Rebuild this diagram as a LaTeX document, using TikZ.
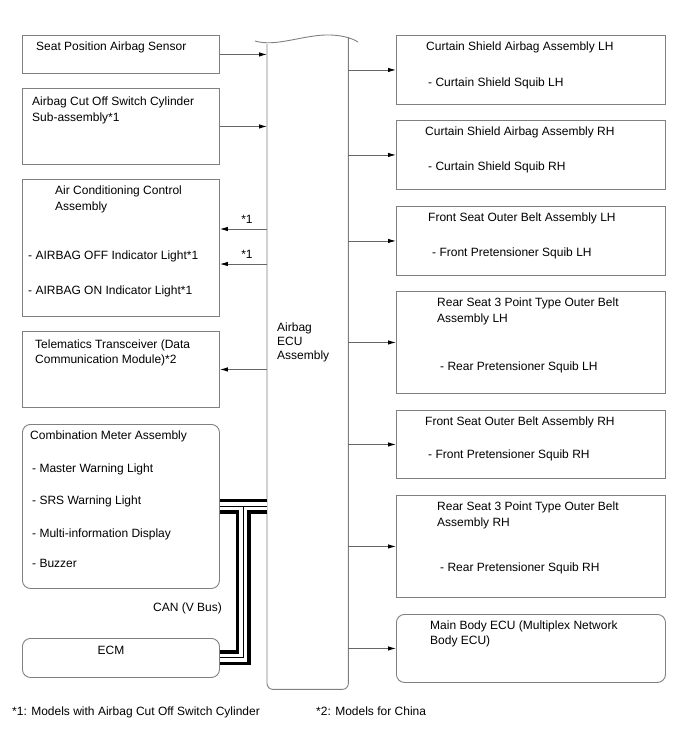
\documentclass[tikz,border=0pt]{standalone}
\usepackage{fontspec}
\setmainfont{Liberation Sans}
\usetikzlibrary{arrows.meta,calc}
\definecolor{boxgray}{HTML}{808080}
\definecolor{linegray}{HTML}{666666}
\begin{document}
\begin{tikzpicture}[x=1pt,y=-1pt,
  font=\fontsize{12}{15}\selectfont,
  box/.style={draw=boxgray, line width=0.9pt, anchor=north west, inner sep=0pt},
  rbox/.style={box, rounded corners=8pt},
  boxline/.style={draw=boxgray, line width=0.9pt},
  txt/.style={anchor=base west, inner sep=0pt, text=black},
  arr/.style={draw=linegray, line width=0.9pt, -{Latex[length=8pt,width=4.5pt,color=black]}},
]
\fill[white] (0,0) rectangle (688,755);
\useasboundingbox (0,0) rectangle (688,755);

% left boxes
\node[box, minimum width=197, minimum height=38] (seat) at (22,35) {};
\node[box, minimum width=197, minimum height=76] (cut) at (22,88) {};
\node[box, minimum width=197, minimum height=137] (ac) at (22,179) {};
\node[box, minimum width=197, minimum height=76] (tel) at (22,331) {};
\node[rbox, minimum width=197, minimum height=164] (cm) at (22,424) {};
\node[rbox, minimum width=197, minimum height=39] (ecm) at (22,638) {};

% right boxes
\node[box, minimum width=269, minimum height=69] (clh) at (396,35) {};
\node[box, minimum width=269, minimum height=69] (crh) at (396,120) {};
\node[box, minimum width=269, minimum height=69] (flh) at (396,206) {};
\node[box, minimum width=269, minimum height=102] (rlh) at (396,291) {};
\node[box, minimum width=269, minimum height=68] (frh) at (396,410) {};
\node[box, minimum width=269, minimum height=102] (rrh) at (396,495) {};
\node[rbox, minimum width=269, minimum height=68] (mb) at (396,614) {};

% ECU
\node[inner sep=0pt, minimum width=81, minimum height=649, anchor=north west] (ecu) at (267,40) {};
\draw[boxline] ($(ecu.north west)+(0,4)$) [rounded corners=6pt] -- (ecu.south west) -- (ecu.south east) [sharp corners] -- ($(ecu.north east)+(0,-3)$);
\draw[boxline] (255,41) .. controls (275,47) and (300,36) .. (325,35) .. controls (340,34.5) and (352,38) .. (358,42);
\node[txt] (ecu1) at (277,331.5) {Airbag};
\node[txt] (ecu2) at (277,345.5) {ECU};
\node[txt] (ecu3) at (277,359.5) {Assembly};

% left texts
\node[txt] (t1) at (36,50.5) {Seat Position Airbag Sensor};
\node[txt] (t2) at (32,105.5) {Airbag Cut Off Switch Cylinder};
\node[txt] (t3) at (32,121.5) {Sub-assembly*1};
\node[txt] (t4) at (55,194.5) {Air Conditioning Control};
\node[txt] (t5) at (55,210.5) {Assembly};
\node[txt] (t6) at (28,259.5) {- AIRBAG OFF Indicator Light*1};
\node[txt] (t7) at (28,294.5) {- AIRBAG ON Indicator Light*1};
\node[txt] (t8) at (35,348.5) {Telematics Transceiver (Data};
\node[txt] (t9) at (35,363.5) {Communication Module)*2};
\node[txt] (t10) at (30,439.5) {Combination Meter Assembly};
\node[txt] (t11) at (32,472.5) {- Master Warning Light};
\node[txt] (t12) at (32,504.5) {- SRS Warning Light};
\node[txt] (t13) at (32,537.5) {- Multi-information Display};
\node[txt] (t14) at (32,567.5) {- Buzzer};
\node[inner sep=0pt] (t15) at (111,650) {ECM};
\node[anchor=base east, inner sep=0pt] (can) at (222,611.5) {CAN (V Bus)};

% right texts
\node[txt] (r1) at (426,50.5) {Curtain Shield Airbag Assembly LH};
\node[txt] (r2) at (428,86.5) {- Curtain Shield Squib LH};
\node[txt] (r3) at (425,135.5) {Curtain Shield Airbag Assembly RH};
\node[txt] (r4) at (428,170.5) {- Curtain Shield Squib RH};
\node[txt] (r5) at (428,221.5) {Front Seat Outer Belt Assembly LH};
\node[txt] (r6) at (432,256.5) {- Front Pretensioner Squib LH};
\node[txt] (r7) at (437,306.5) {Rear Seat 3 Point Type Outer Belt};
\node[txt] (r8) at (437,322.5) {Assembly LH};
\node[txt] (r9) at (440,370.5) {- Rear Pretensioner Squib LH};
\node[txt] (r10) at (425,425.5) {Front Seat Outer Belt Assembly RH};
\node[txt] (r11) at (428,458.5) {- Front Pretensioner Squib RH};
\node[txt] (r12) at (437,510.5) {Rear Seat 3 Point Type Outer Belt};
\node[txt] (r13) at (437,526.5) {Assembly RH};
\node[txt] (r14) at (440,571.5) {- Rear Pretensioner Squib RH};
\node[txt] (r15) at (430,629.5) {Main Body ECU (Multiplex Network};
\node[txt] (r16) at (430,644.5) {Body ECU)};

% arrows left side
\draw[arr] (seat.east) -- (seat.east -| ecu.west);
\draw[arr] (cut.east) -- (cut.east -| ecu.west);
\coordinate (ac1) at ($(ac.north east)+(0,50)$);
\coordinate (ac2) at ($(ac.north east)+(0,85)$);
\draw[arr] (ac1 -| ecu.west) -- (ac1);
\draw[arr] (ac2 -| ecu.west) -- (ac2);
\node[inner sep=0pt] (s1) at (247,219) {*1};
\node[inner sep=0pt] (s2) at (247,254) {*1};
\draw[arr] (tel.east -| ecu.west) -- (tel.east);

% arrows right side
\foreach \b in {clh,crh,flh,rlh,frh,rrh,mb}
  \draw[arr] (\b.west -| ecu.east) -- (\b.west);

% CAN bus
\coordinate (bj) at ($(cm.east)!0.5!(cm.east -| ecu.west)$);
\foreach \w/\c in {15pt/black, 8pt/white, 1pt/black} {
  \draw[line width=\w, draw=\c, line join=miter] (cm.east) -- (cm.east -| ecu.west);
  \draw[line width=\w, draw=\c, line join=miter] (bj) |- (ecm.east);
}

% footnotes
\node[txt] (f1) at (12,715.5) {*1: Models with Airbag Cut Off Switch Cylinder};
\node[txt] (f2) at (316,715.5) {*2: Models for China};
\end{tikzpicture}
\end{document}
